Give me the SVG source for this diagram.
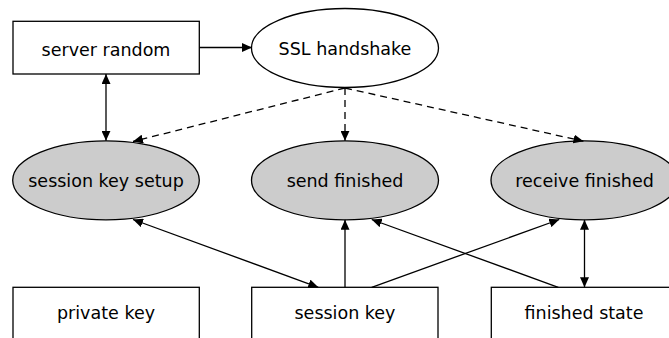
<svg xmlns="http://www.w3.org/2000/svg" width="669" height="338" viewBox="0 0 669 338">
  <defs>
    <marker id="arrow" viewBox="0 0 10 9" refX="10" refY="4.5" markerWidth="10" markerHeight="9" markerUnits="userSpaceOnUse" orient="auto-start-reverse">
      <path d="M0,0 L10,4.5 L0,9 Z" fill="#000"/>
    </marker>
  </defs>
  <style>
    .box { fill: #fff; stroke: #000; stroke-width: 1.3; }
    .state { fill: #fff; stroke: #000; stroke-width: 1.3; }
    .state.shaded { fill: #cccccc; }
    .label { font-family: "DejaVu Sans", "Liberation Sans", sans-serif; font-size: 17.5px; fill: #000; text-anchor: middle; }
    .edge { fill: none; stroke: #000; stroke-width: 1.3; }
    .dashed { stroke-dasharray: 7 5; }
  </style>
  <rect width="669" height="338" fill="#fff"/>

  <g id="server-random">
    <rect class="box" x="13" y="21.3" width="186.3" height="52.7"/>
    <text class="label" x="106" y="56">server random</text>
  </g>
  <g id="ssl-handshake">
    <ellipse class="state" cx="345" cy="48" rx="93.5" ry="39.5"/>
    <text class="label" x="345" y="55">SSL handshake</text>
  </g>
  <g id="session-key-setup">
    <ellipse class="state shaded" cx="106" cy="180.3" rx="93.3" ry="39.5"/>
    <text class="label" x="106" y="187">session key setup</text>
  </g>
  <g id="send-finished">
    <ellipse class="state shaded" cx="345" cy="180.3" rx="93.5" ry="39.5"/>
    <text class="label" x="345" y="187">send finished</text>
  </g>
  <g id="receive-finished">
    <ellipse class="state shaded" cx="584.5" cy="180.3" rx="93.5" ry="39.5"/>
    <text class="label" x="584.5" y="187">receive finished</text>
  </g>
  <g id="private-key">
    <rect class="box" x="13" y="287.3" width="186.3" height="70"/>
    <text class="label" x="106" y="318.5">private key</text>
  </g>
  <g id="session-key">
    <rect class="box" x="251.7" y="287.3" width="186.3" height="70"/>
    <text class="label" x="345" y="318.5">session key</text>
  </g>
  <g id="finished-state">
    <rect class="box" x="491.3" y="287.3" width="186.3" height="70"/>
    <text class="label" x="584" y="318.5">finished state</text>
  </g>

  <g id="connectors">
    <line class="edge" x1="199.3" y1="47.5" x2="252" y2="47.5" marker-end="url(#arrow)"/>
    <line class="edge" x1="106" y1="74" x2="106" y2="140.8" marker-start="url(#arrow)" marker-end="url(#arrow)"/>
    <line class="edge dashed" x1="345" y1="88" x2="133" y2="141.5" marker-end="url(#arrow)"/>
    <line class="edge dashed" x1="345" y1="88" x2="345" y2="140.8" marker-end="url(#arrow)"/>
    <line class="edge dashed" x1="345" y1="88" x2="583.5" y2="141.2" marker-end="url(#arrow)"/>
    <line class="edge" x1="133" y1="219.5" x2="318.3" y2="287.3" marker-start="url(#arrow)" marker-end="url(#arrow)"/>
    <line class="edge" x1="345" y1="287.3" x2="345" y2="219.8" marker-end="url(#arrow)"/>
    <line class="edge" x1="371.7" y1="287.3" x2="559.3" y2="219.5" marker-end="url(#arrow)"/>
    <line class="edge" x1="558.3" y1="287.3" x2="371.7" y2="219.5" marker-end="url(#arrow)"/>
    <line class="edge" x1="584.5" y1="219.8" x2="584.5" y2="287.3" marker-start="url(#arrow)" marker-end="url(#arrow)"/>
  </g>
</svg>
